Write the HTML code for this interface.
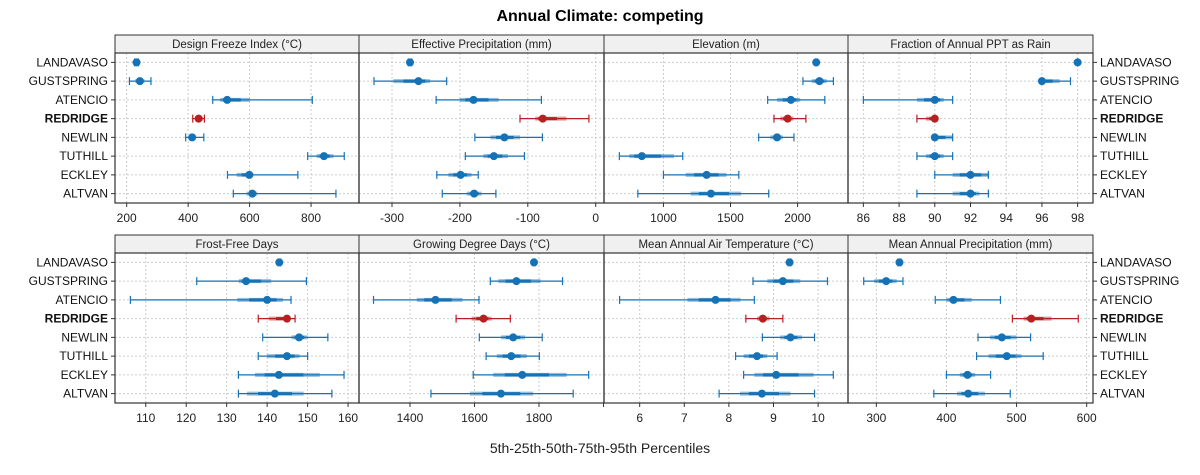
<!DOCTYPE html>
<html><head><meta charset="utf-8"><style>
html,body{margin:0;padding:0;background:#fff}
svg{display:block;font-family:"Liberation Sans",sans-serif}
</style></head><body>
<svg id="chart" width="1200" height="475" viewBox="0 0 1200 475">
<text x="600" y="21" text-anchor="middle" font-size="16" font-weight="bold" fill="#000">Annual Climate: competing</text>
<text x="600" y="453" text-anchor="middle" font-size="14" fill="#222">5th-25th-50th-75th-95th Percentiles</text>
</svg>
<script>
const sites = ["LANDAVASO","GUSTSPRING","ATENCIO","REDRIDGE","NEWLIN","TUTHILL","ECKLEY","ALTVAN"];
const highlight = "REDRIDGE";
const panelTitles = ["Design Freeze Index (°C)","Effective Precipitation (mm)","Elevation (m)","Fraction of Annual PPT as Rain","Frost-Free Days","Growing Degree Days (°C)","Mean Annual Air Temperature (°C)","Mean Annual Precipitation (mm)"];
const panelDomains = [[162,956],[-348.6,12.2],[556.7,2376],[85.14,98.86],[102.4,162.7],[1242,2001.5],[5.2,10.67],[259.6,609]];
const panelTicks = [[200,400,600,800],[-300,-200,-100,0],[1000,1500,2000],[86,88,90,92,94,96,98],[110,120,130,140,150,160],[1400,1600,1800,2000],[6,7,8,9,10],[300,400,500,600]];
const panelTickLabels = [["200","400","600","800"],["-300","-200","-100","0"],["1000","1500","2000"],["86","88","90","92","94","96","98"],["110","120","130","140","150","160"],["1400","1600","1800",""],["6","7","8","9","10"],["300","400","500","600"]];
// each row: [p5,p25,p50,p75,p95] per site
const dfi = [[226,230,232,234,238],[209,228,243,258,279],[480,504,527,601,804],[415,425,434,448,453],[392,403,413,425,451],[789,818,842,873,908],[528,558,599,612,757],[547,590,609,625,881]];
const effp = [[-276,-275,-273.5,-272,-271],[-326.5,-298,-261,-244,-219.5],[-235,-200,-180,-143,-80],[-111.5,-89,-78,-43,-10],[-178,-155,-134.5,-111.5,-78.5],[-192,-165.5,-150,-129,-105],[-234,-217,-199,-183,-173],[-226,-190,-179,-168,-147]];
const elev = [[2132,2136,2139,2143,2146],[2040,2106,2163,2218,2267],[1777,1847,1950,2020,2203],[1824,1871,1926,1970,2062],[1710,1797,1847,1891,1973],[671,745,839,1079,1144],[1000,1166,1322,1470,1562],[809,1203,1354,1579,1785]];
const frac = [[98,98,98,98,98],[96,96,96,97,97.6],[86,89,90,90.5,91],[89,89.5,90,90,90],[90,90,90,91,91],[89,89.5,90,90.5,91],[90,91,92,93,93],[89,91,92,92.5,93]];
const ffd = [[142.7,142.8,143,143.1,143.3],[122.6,133,134.8,141,149.7],[106.2,132.6,140,143.9,145.9],[137.8,140.4,144.9,145.5,146.9],[138.9,146,147.9,150,155],[137.8,140,144.9,148,150],[132.9,137,142.9,153,159],[132.9,135,141.9,149,156]];
const gdd = [[1781,1783,1784.5,1786,1788],[1649,1674,1730,1805,1873],[1287,1421,1479,1563,1614],[1543,1591,1628,1653,1711],[1615,1682,1720,1757,1810],[1636,1669,1714,1762,1801],[1596,1658,1748,1886,1954],[1465,1586,1682,1782,1906]];
const maat = [[9.33,9.35,9.36,9.37,9.39],[8.54,8.86,9.21,9.6,10.21],[5.55,7.07,7.70,8.26,8.57],[8.38,8.63,8.76,8.91,9.21],[8.75,9.15,9.38,9.64,9.92],[8.15,8.33,8.63,8.86,9.08],[8.33,8.57,9.06,9.9,10.34],[7.78,8.25,8.74,9.38,9.92]];
const map = [[331,332,333,334,335],[282,297,314,329,338],[384,400,410,436,477],[494,510,521,550,588],[445,462,479,500,520],[443,460,486,507,538],[400,419,430,441,463],[382,415,431,455,491]];
const panelData = [dfi,effp,elev,frac,ffd,gdd,maat,map];

const NS="http://www.w3.org/2000/svg";
const svg=document.getElementById('chart');
function mk(tag,attrs,parent){const e=document.createElementNS(NS,tag);for(const k in attrs)e.setAttribute(k,attrs[k]);(parent||svg).appendChild(e);return e;}
const colX=[[115,359],[359,604],[604,848],[848,1093]];
const rowY=[{top:35,strip:53,bottom:203},{top:235,strip:253,bottom:403}];
const BLUE="#1572b6", RED="#b52020";
for(let p=0;p<8;p++){
  const c=p%4, r=Math.floor(p/4);
  const x0=colX[c][0],x1=colX[c][1],R=rowY[r];
  const g=mk('g',{});
  
  
  const dom=panelDomains[p];
  const sx=v=>x0+(v-dom[0])/(dom[1]-dom[0])*(x1-x0);
  const rowPitch=(R.bottom-R.strip)/8;
  const sy=i=>R.strip+rowPitch*(i+0.5);
  // strip
  const st=mk('rect',{x:x0,y:R.top,width:x1-x0,height:R.strip-R.top,fill:'#f0f0f0',stroke:'#333','stroke-width':1},g);
  
  
  const tt=mk('text',{x:(x0+x1)/2,y:R.top+13,'text-anchor':'middle','font-size':11.5,fill:'#222'},g);
  tt.textContent=panelTitles[p];
  
  
  // grid
  panelTicks[p].forEach((t,k)=>{
    const X=sx(t);
    if(X>x0+1&&X<x1-1) mk('line',{x1:X,x2:X,y1:R.strip,y2:R.bottom,stroke:'#ccc','stroke-dasharray':'2,2'},g);
    mk('line',{x1:X,x2:X,y1:R.bottom,y2:R.bottom+4,stroke:'#333'},g);
    const lb=mk('text',{x:X,y:R.bottom+19,'text-anchor':'middle','font-size':12,fill:'#222'},g);
    lb.textContent=panelTickLabels[p][k];
    
    
  });
  sites.forEach((s,i)=>mk('line',{x1:x0,x2:x1,y1:sy(i),y2:sy(i),stroke:'#ccc','stroke-dasharray':'2,2'},g));
  // marks
  panelData[p].forEach((q,i)=>{
    const col=sites[i]===highlight?RED:BLUE, y=sy(i);
    const m=mk('g',{},g);
    
    
    mk('line',{x1:sx(q[0]),x2:sx(q[4]),y1:y,y2:y,stroke:col,'stroke-width':1.2},m);
    mk('line',{x1:sx(q[0]),x2:sx(q[0]),y1:y-4,y2:y+4,stroke:col,'stroke-width':1.2},m);
    mk('line',{x1:sx(q[4]),x2:sx(q[4]),y1:y-4,y2:y+4,stroke:col,'stroke-width':1.2},m);
    mk('line',{x1:sx(q[1]),x2:sx(q[3]),y1:y,y2:y,stroke:col,'stroke-width':4,'stroke-opacity':0.45},m);
    mk('line',{x1:sx(q[1])+(sx(q[2])-sx(q[1]))*0.4,x2:sx(q[3])-(sx(q[3])-sx(q[2]))*0.4,y1:y,y2:y,stroke:col,'stroke-width':3},m);
    mk('circle',{cx:sx(q[2]),cy:y,r:4,fill:col},m);
  });
  // frame
  mk('rect',{x:x0,y:R.strip,width:x1-x0,height:R.bottom-R.strip,fill:'none',stroke:'#333','stroke-width':1.2},g);
}
// site labels
[0,1].forEach(r=>{
  const R=rowY[r],pitch=(R.bottom-R.strip)/8;
  sites.forEach((s,i)=>{
    const y=R.strip+pitch*(i+0.5)+4;
    const bold=s===highlight?'bold':'normal';
    const l=mk('text',{x:108,y:y,'text-anchor':'end','font-size':12,'font-weight':bold,fill:'#111'});
    l.textContent=s;
    
    
    const rl=mk('text',{x:1100,y:y,'text-anchor':'start','font-size':12,'font-weight':bold,fill:'#111'});
    rl.textContent=s;
    
    
    mk('line',{x1:111,x2:115,y1:y-4,y2:y-4,stroke:'#333'});
    mk('line',{x1:1093,x2:1097,y1:y-4,y2:y-4,stroke:'#333'});
  });
});
</script>
</body></html>
